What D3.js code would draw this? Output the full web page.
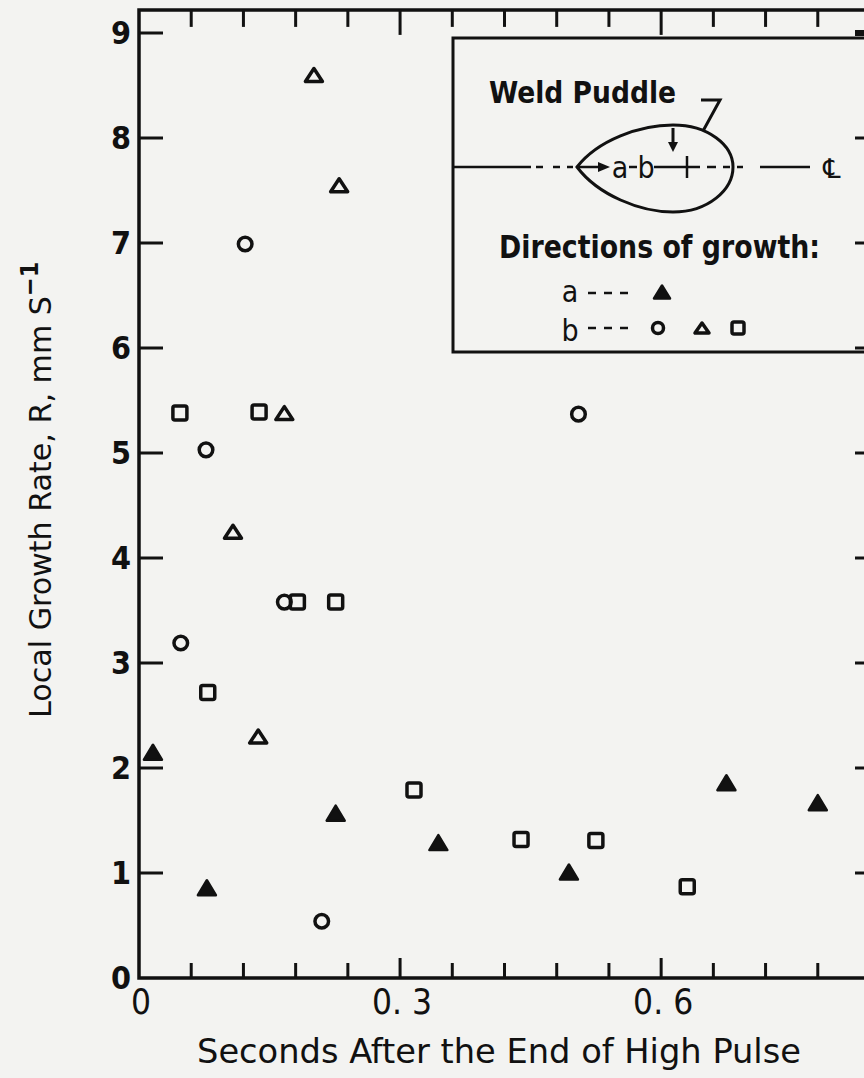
<!DOCTYPE html>
<html>

<head>
    <meta charset="utf-8">
    <style>
        body {
            margin: 0;
            background: #f3f3f1;
        }

        svg {
            display: block;
        }

        .lbl {
            font-family: 'Liberation Sans Narrow', 'DejaVu Sans', sans-serif;
            font-stretch: condensed;
            fill: #111;
        }
    </style>
</head>

<body>
    <svg width="864" height="1078"></svg>
</body>

<script src="https://d3js.org/d3.v7.min.js"></script>

<script>

    // values: [seconds, growth rate]
    const dirA_filledTriangle = [[0.016, 2.15], [0.078, 0.86], [0.226, 1.57], [0.344, 1.29], [0.494, 1.01], [0.675, 1.86], [0.780, 1.67]];
    const dirB_circle = [[0.048, 3.19], [0.077, 5.03], [0.122, 6.99], [0.167, 3.58], [0.210, 0.54], [0.505, 5.37]];
    const dirB_triangle = [[0.108, 4.25], [0.137, 2.30], [0.167, 5.38], [0.201, 8.60], [0.230, 7.55]];
    const dirB_square = [[0.047, 5.38], [0.079, 2.72], [0.138, 5.39], [0.182, 3.58], [0.226, 3.58], [0.316, 1.79], [0.439, 1.32], [0.525, 1.31], [0.630, 0.87]];

    const yTickValues = [0, 1, 2, 3, 4, 5, 6, 7, 8, 9];
    const xMinorTicks = d3.range(0, 0.841, 0.06);
    const xMajorTicks = [0, 0.3, 0.6];
    const xTickLabels = ["0", "0. 3", "0. 6"];

    const ink = "#111";

    let svg = d3.select("svg");

    let x = d3.scaleLinear()
        .domain([0, 0.84])
        .range([139, 870]);

    let y = d3.scaleLinear()
        .domain([0, 9])
        .range([978, 33]);

    let yTop = y(9.22);

    function isMajor(d) {
        let r = d % 0.3;
        return r < 1e-6 || Math.abs(r - 0.3) < 1e-6;
    }

    // frame
    svg.append("path")
        .attr("d", `M${x(0.84)},${yTop} H${x(0)} V${y(0)} H${x(0.84)}`)
        .style("fill", "none")
        .style("stroke", ink)
        .style("stroke-width", 3.5);

    // bottom ticks
    svg.append("g")
        .selectAll("line")
        .data(xMinorTicks.slice(1))
        .join("line")
        .attr("x1", d => x(d))
        .attr("x2", d => x(d))
        .attr("y1", y(0))
        .attr("y2", d => y(0) - (isMajor(d) ? 20 : 15))
        .style("stroke", ink)
        .style("stroke-width", 3);

    // top ticks
    svg.append("g")
        .selectAll("line")
        .data(xMinorTicks.slice(1))
        .join("line")
        .attr("x1", d => x(d))
        .attr("x2", d => x(d))
        .attr("y1", yTop)
        .attr("y2", d => yTop + (isMajor(d) ? 25 : 17))
        .style("stroke", ink)
        .style("stroke-width", 3);

    // left ticks
    svg.append("g")
        .selectAll("line")
        .data(yTickValues.slice(1))
        .join("line")
        .attr("x1", x(0))
        .attr("x2", x(0) + 24)
        .attr("y1", d => y(d))
        .attr("y2", d => y(d))
        .style("stroke", ink)
        .style("stroke-width", 3);

    // y tick labels
    svg.append("g")
        .selectAll("text")
        .data(yTickValues)
        .join("text")
        .attr("class", "lbl")
        .attr("x", 121)
        .attr("y", d => y(d) + 11)
        .attr("text-anchor", "middle")
        .attr("font-size", "32px")
        .attr("font-weight", "bold")
        .text(d => d);

    // x tick labels
    svg.append("g")
        .selectAll("text")
        .data(xMajorTicks)
        .join("text")
        .attr("class", "lbl")
        .attr("x", d => x(d) + 2)
        .attr("y", 1014)
        .attr("text-anchor", "middle")
        .attr("font-size", "35px")
        .text((d, i) => xTickLabels[i]);

    // axis titles
    svg.append("text")
        .attr("class", "lbl")
        .attr("x", 499)
        .attr("y", 1063)
        .attr("text-anchor", "middle")
        .attr("font-size", "34px")
        .attr("textLength", 604)
        .attr("lengthAdjust", "spacingAndGlyphs")
        .text("Seconds After the End of High Pulse");

    let yTitle = svg.append("text")
        .attr("class", "lbl")
        .attr("transform", "translate(51,718) rotate(-90)")
        .attr("font-size", "31px");
    yTitle.append("tspan")
        .attr("textLength", 422)
        .attr("lengthAdjust", "spacingAndGlyphs")
        .text("Local Growth Rate,  R,  mm  S");
    yTitle.append("tspan")
        .attr("dy", -13)
        .attr("font-size", "25px")
        .attr("font-weight", "bold")
        .text("\u2212" + "1");

    // markers
    function triPath(cx, cy, w, h) {
        return `M${cx - w / 2},${cy + h / 2} L${cx + w / 2},${cy + h / 2} L${cx},${cy - h / 2} Z`;
    }

    svg.append("g")
        .selectAll("rect")
        .data(dirB_square)
        .join("rect")
        .attr("x", d => x(d[0]) - 7)
        .attr("y", d => y(d[1]) - 7)
        .attr("width", 14)
        .attr("height", 14)
        .attr("rx", 2)
        .style("fill", "none")
        .style("stroke", ink)
        .style("stroke-width", 3.5);

    svg.append("g")
        .selectAll("circle")
        .data(dirB_circle)
        .join("circle")
        .attr("cx", d => x(d[0]))
        .attr("cy", d => y(d[1]))
        .attr("r", 6.8)
        .style("fill", "none")
        .style("stroke", ink)
        .style("stroke-width", 3.5);

    svg.append("g")
        .selectAll("path")
        .data(dirB_triangle)
        .join("path")
        .attr("d", d => triPath(x(d[0]), y(d[1]), 17, 13))
        .style("fill", "none")
        .style("stroke", ink)
        .style("stroke-width", 3.5)
        .style("stroke-linejoin", "round");

    svg.append("g")
        .selectAll("path")
        .data(dirA_filledTriangle)
        .join("path")
        .attr("d", d => triPath(x(d[0]), y(d[1]), 18, 15))
        .style("fill", ink)
        .style("stroke", ink)
        .style("stroke-width", 2.5)
        .style("stroke-linejoin", "round");

    // ---- legend / inset box ----
    let box = svg.append("g");

    box.append("rect")
        .attr("x", 453)
        .attr("y", 38)
        .attr("width", 430)
        .attr("height", 314)
        .style("fill", "#f3f3f1")
        .style("stroke", ink)
        .style("stroke-width", 3);

    // right ticks (axis itself is just off the page), drawn over the box
    svg.append("g")
        .selectAll("line")
        .data(yTickValues.slice(1))
        .join("line")
        .attr("x1", x(0.84))
        .attr("x2", x(0.84) - 15)
        .attr("y1", d => y(d))
        .attr("y2", d => y(d))
        .style("stroke", ink)
        .style("stroke-width", d => d == 9 ? 6 : 3);

    box.append("text")
        .attr("class", "lbl")
        .attr("x", 489)
        .attr("y", 103)
        .attr("font-size", "31px")
        .attr("font-weight", "bold")
        .attr("textLength", 187)
        .attr("lengthAdjust", "spacingAndGlyphs")
        .text("Weld Puddle");

    // leader
    box.append("path")
        .attr("d", "M701,100 H720 L703,131")
        .style("fill", "none")
        .style("stroke", ink)
        .style("stroke-width", 3);

    // puddle outline
    box.append("path")
        .attr("d", "M577,167 C598,140 640,125 673,125 C708,125 733,145 733,167 C733,190 708,212 673,212 C640,212 598,195 577,167 Z")
        .style("fill", "none")
        .style("stroke", ink)
        .style("stroke-width", 3);

    // down arrow
    box.append("line")
        .attr("x1", 673).attr("x2", 673)
        .attr("y1", 128).attr("y2", 144)
        .style("stroke", ink).style("stroke-width", 3);
    box.append("path")
        .attr("d", "M668,142 L678,142 L673,152 Z")
        .style("fill", ink);

    // centre line pieces
    let cl = 167;
    let segs = [[453, 531], [536, 543], [553, 560], [567, 573], [578, 600], [629, 637], [654, 700], [707, 716], [723, 730], [737, 743], [760, 810]];
    box.selectAll("line.cl")
        .data(segs)
        .join("line")
        .attr("x1", d => d[0])
        .attr("x2", d => d[1])
        .attr("y1", cl)
        .attr("y2", cl)
        .style("stroke", ink)
        .style("stroke-width", 2.5);
    box.append("path")
        .attr("d", `M598,${cl - 5} L610,${cl} L598,${cl + 5} Z`)
        .style("fill", ink);
    box.append("line")
        .attr("x1", 687).attr("x2", 687)
        .attr("y1", 156).attr("y2", 178)
        .style("stroke", ink).style("stroke-width", 2.5);

    box.append("text")
        .attr("class", "lbl")
        .attr("x", 620)
        .attr("y", 178)
        .attr("text-anchor", "middle")
        .attr("font-size", "30px")
        .text("a");
    box.append("text")
        .attr("class", "lbl")
        .attr("x", 646)
        .attr("y", 178)
        .attr("text-anchor", "middle")
        .attr("font-size", "30px")
        .text("b");
    box.append("text")
        .attr("x", 832)
        .attr("y", 178)
        .attr("text-anchor", "middle")
        .attr("font-size", "27px")
        .style("font-family", "'DejaVu Sans', sans-serif")
        .style("fill", ink)
        .text("\u2104");

    box.append("text")
        .attr("class", "lbl")
        .attr("x", 499)
        .attr("y", 258)
        .attr("font-size", "32px")
        .attr("font-weight", "bold")
        .attr("textLength", 321)
        .attr("lengthAdjust", "spacingAndGlyphs")
        .text("Directions of growth:");

    // legend rows
    box.append("text")
        .attr("class", "lbl")
        .attr("x", 570)
        .attr("y", 302)
        .attr("text-anchor", "middle")
        .attr("font-size", "30px")
        .text("a");
    box.append("text")
        .attr("class", "lbl")
        .attr("x", 570)
        .attr("y", 341)
        .attr("text-anchor", "middle")
        .attr("font-size", "30px")
        .text("b");

    let dashRows = [293, 328];
    dashRows.forEach(function (ry) {
        [[588, 596], [604, 612], [620, 628]].forEach(function (s) {
            box.append("line")
                .attr("x1", s[0]).attr("x2", s[1])
                .attr("y1", ry).attr("y2", ry)
                .style("stroke", ink).style("stroke-width", 2.5);
        });
    });

    box.append("path")
        .attr("d", triPath(662, 292, 16, 13))
        .style("fill", ink).style("stroke", ink).style("stroke-width", 2.5).style("stroke-linejoin", "round");
    box.append("circle")
        .attr("cx", 658).attr("cy", 328).attr("r", 5.5)
        .style("fill", "none").style("stroke", ink).style("stroke-width", 3.5);
    box.append("path")
        .attr("d", triPath(702, 328, 14, 10))
        .style("fill", "none").style("stroke", ink).style("stroke-width", 3.5).style("stroke-linejoin", "round");
    box.append("rect")
        .attr("x", 732).attr("y", 322).attr("width", 12).attr("height", 12).attr("rx", 2)
        .style("fill", "none").style("stroke", ink).style("stroke-width", 3.5);

</script>

</html>
